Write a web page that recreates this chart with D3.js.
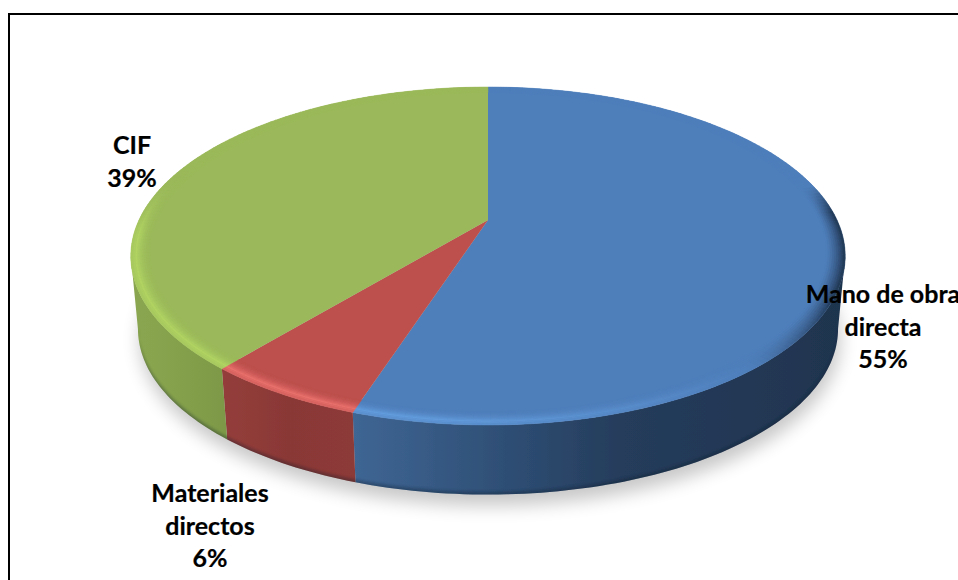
<!DOCTYPE html>
<html>
<head>
<meta charset="utf-8">
<script src="https://cdnjs.cloudflare.com/ajax/libs/d3/7.8.5/d3.min.js"></script>
<style>
  html, body { margin: 0; padding: 0; background: #fff; overflow: hidden; }
  svg { display: block; }
  text { font-family: Lato, "Open Sans", sans-serif; font-weight: 700; font-size: 25px; fill: #000; stroke: #000; stroke-width: 0.2px; text-anchor: middle; }
</style>
</head>
<body>
<svg id="chart" width="958" height="580"></svg>
<script>
// Chart content
const categories = ["Mano de obra directa", "Materiales directos", "CIF"];
const shares = [55, 6, 39];
const labelLines = [["Mano de obra", "directa", "55%"], ["Materiales", "directos", "6%"], ["CIF", "39%"]];

// Appearance
const topColors = ["#4f7fbb", "#bd504d", "#9bb95a"];
const glowColors = ["#639cdc", "#e8706c", "#b0d362"];
const wallStops = [
  [[0, "#3f6694"], [0.3, "#2f4f76"], [0.55, "#253c5b"], [1, "#1f344f"]],
  [[0, "#943e3b"], [0.5, "#8a3836"], [1, "#8d3a38"]],
  [[0, "#8aa650"], [0.25, "#88a44e"], [1, "#7d9947"]]
];
const rimTones = ["#1f344f", "#873735", "#7d9947"];
const labelAnchors = [[883, 303], [210, 502], [132, 154]];

const width = 958, height = 580;
const svg = d3.select("#chart");
const defs = svg.append("defs");
defs.append("filter").attr("id", "shadowBlur")
  .attr("x", "-10%").attr("y", "-10%").attr("width", "120%").attr("height", "130%")
  .append("feGaussianBlur").attr("stdDeviation", 9);
defs.append("filter").attr("id", "soft")
  .attr("x", "-5%").attr("y", "-5%").attr("width", "110%").attr("height", "110%")
  .append("feGaussianBlur").attr("stdDeviation", 0.6);
defs.append("filter").attr("id", "edgeBlur")
  .attr("x", "-5%").attr("y", "-20%").attr("width", "110%").attr("height", "140%")
  .append("feGaussianBlur").attr("stdDeviation", 1.6);

// Tilted-disc projection: the disc's centre lands above the ellipse's centre.
const cx = 488, apexY = 220, depthK = 0.213, spanX = 349, spanY = 161.3;
const midY = 256, wallDrop = 73, wallShrink = 0.98;
function project(theta, radius, drop) {
  const u = Math.sin(theta) * radius, v = -Math.cos(theta) * radius;
  const w = 1 - depthK * v;
  const x = cx + spanX * u / w, y = apexY + spanY * v / w;
  if (!drop) return [x, y];
  const s = 1 + (wallShrink - 1) * drop;
  return [cx + (x - cx) * s, midY + (y - midY) * s + wallDrop * drop];
}
const path = d3.line();
const arcs = d3.pie().sort(null).value(d => d)(shares);
const TAU = Math.PI * 2;

// The wall is only seen between the disc's widest points on either side.
const wallFrom = Math.acos(-depthK), wallTo = TAU - wallFrom;

function sampleAngles(a0, a1, step) {
  const n = Math.max(2, Math.ceil((a1 - a0) / step));
  return d3.range(n + 1).map(i => a0 + (a1 - a0) * i / n);
}

// Soft shadow on the ground under the disc
const groundRing = sampleAngles(0, TAU, 0.04).map(a => {
  const p = project(a, 1, 1);
  return [p[0] + 2, p[1] + 11];
});
svg.append("path").attr("d", path(groundRing) + "Z")
  .attr("fill", "#000").attr("opacity", 0.22).attr("filter", "url(#shadowBlur)");

const disc = svg.append("g").attr("filter", "url(#soft)");

// Rim wall: one band per slice, shaded from side to side
const wallArcs = arcs.map((arc, i) => {
  const ticks = sampleAngles(Math.max(arc.startAngle, wallFrom), Math.min(arc.endAngle, wallTo), 0.02);
  const upper = ticks.map(a => project(a, 1, 0));
  const lower = ticks.map(a => project(a, 1, 1)).reverse();
  return { i, points: upper.concat(lower) };
});
wallArcs.forEach(w => {
  const xs = w.points.map(p => p[0]);
  defs.append("linearGradient").attr("id", "wall" + w.i)
    .attr("gradientUnits", "userSpaceOnUse")
    .attr("x1", d3.min(xs)).attr("x2", d3.max(xs)).attr("y1", 0).attr("y2", 0)
    .selectAll("stop").data(wallStops[w.i]).join("stop")
    .attr("offset", d => d[0]).attr("stop-color", d => d[1]);
});
const wallClip = defs.append("clipPath").attr("id", "wallClip");
wallClip.selectAll("path").data(wallArcs).join("path").attr("d", d => path(d.points) + "Z");
disc.append("g").selectAll("path").data(wallArcs).join("path")
  .attr("d", d => path(d.points) + "Z")
  .attr("fill", d => "url(#wall" + d.i + ")");

// Darkened lower lip of the wall
const lip = sampleAngles(wallFrom, wallTo, 0.02);
disc.append("g").attr("clip-path", "url(#wallClip)")
  .append("path")
  .attr("d", path(lip.map(a => project(a, 1, 0.96)).concat(lip.map(a => project(a, 1, 1.1)).reverse())) + "Z")
  .attr("fill", "#101a2c").attr("opacity", 0.32).attr("filter", "url(#edgeBlur)");

// Flat top sectors
disc.append("g").selectAll("path").data(arcs).join("path")
  .attr("d", arc => {
    const rim = sampleAngles(arc.startAngle, arc.endAngle, 0.02).map(a => project(a, 1, 0));
    return path([project(0, 0, 0), ...rim]) + "Z";
  })
  .attr("fill", (arc, i) => topColors[i]);

// Bevel band: lit towards the lower left, falling into shadow towards the right
const bevelRows = d3.range(9);
const bevelPieces = [];
const innerEdge = 0.948;
arcs.forEach((arc, i) => {
  const ticks = sampleAngles(arc.startAngle, arc.endAngle, 0.02);
  ticks.slice(1).forEach((a1, k) => {
    const a0 = ticks[k], mid = (a0 + a1) / 2;
    const facing = d3.scaleLinear().domain([-0.22, 0.12]).range([0, 1]).clamp(true)(-Math.cos(mid));
    const light = Math.cos(mid - Math.PI * 1.28) * facing;
    bevelRows.forEach(row => {
      const t0 = row / bevelRows.length, t1 = (row + 1) / bevelRows.length, t = (t0 + t1) / 2;
      const rise = Math.min(1, t / 0.72), fall = t > 0.72 ? 1 - (t - 0.72) / 0.28 * 0.45 : 1;
      const glow = rise * rise * fall * Math.min(1, Math.max(0, light) * 1.35);
      const dark = Math.min(1, Math.max(0, -light * 2.4));
      let color = d3.interpolateRgb(topColors[i], glowColors[i])(glow);
      color = d3.interpolateRgb(color, rimTones[i])(dark * Math.pow(t, 1.4));
      const r0 = innerEdge + (1 - innerEdge) * t0, r1 = innerEdge + (1 - innerEdge) * t1;
      bevelPieces.push({
        color,
        points: [project(a0, r0, 0), project(a1, r0, 0), project(a1, r1, 0), project(a0, r1, 0)]
      });
    });
  });
});
disc.append("g").selectAll("path").data(bevelPieces).join("path")
  .attr("d", d => path(d.points) + "Z")
  .attr("fill", d => d.color).attr("stroke", d => d.color).attr("stroke-width", 0.5);

// Frame, open on the right and cut off at the bottom
const frame = d3.line()([[9, height], [9, 14], [width, 14]]);
svg.append("path").attr("d", frame).attr("fill", "none").attr("stroke", "#000").attr("stroke-width", 2);

// Data labels
const lineGap = 32.5;
const labels = svg.append("g").selectAll("text").data(labelLines).join("text")
  .attr("aria-label", (d, i) => categories[i])
  .attr("x", (d, i) => labelAnchors[i][0])
  .attr("y", (d, i) => labelAnchors[i][1]);
labels.selectAll("tspan").data((d, i) => d.map((line, k) => ({ line, k, i }))).join("tspan")
  .attr("x", d => labelAnchors[d.i][0])
  .attr("dy", d => d.k ? lineGap : 0)
  .text(d => d.line);
</script>
</body>
</html>
